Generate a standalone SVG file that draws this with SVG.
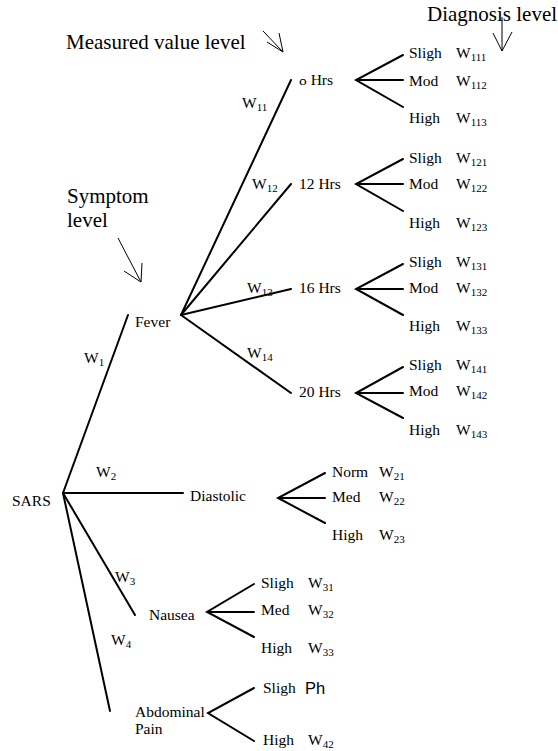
<svg xmlns="http://www.w3.org/2000/svg" width="558" height="751" viewBox="0 0 558 751">
  <style>
    text { font-family: "Liberation Serif", Tinos, "Times New Roman", Times, "DejaVu Serif", serif; fill: #000; }
    .t { font-size: 15.5px; }
    .big { font-size: 21px; }
    .sub { font-size: 11px; }
    text.sans { font-family: "Liberation Sans", Arimo, Arial, sans-serif; font-size: 16.5px; }
    .edge { stroke: #000; stroke-width: 2; fill: none; stroke-linecap: round; }
    .pointer { stroke: #000; stroke-width: 1; fill: none; }
  </style>
  <defs>
    <!-- the leading "8" is printed with its upper loop cut away -->
    <clipPath id="cut8">
      <rect x="295" y="79" width="13" height="12"/>
      <rect x="308" y="60" width="40" height="35"/>
    </clipPath>
  </defs>
  <rect width="558" height="751" fill="#fff"/>

  <!-- level captions with their pointers -->
  <g id="captions">
    <text class="big" x="66" y="49">Measured value level</text>
    <text class="big" x="427" y="21">Diagnosis level</text>
    <text class="big" x="67" y="203">Symptom</text>
    <text class="big" x="67" y="227">level</text>
    <path class="pointer" d="M263,31 L283,52 M267,42 L283,52 M279,33 L283,52"/>
    <path class="pointer" d="M502,17 L502,51 M493,33 L502,51 M512,32 L502,51"/>
    <path class="pointer" d="M118,238 L141,282 M124,271 L141,282 M142,263 L141,282"/>
  </g>

  <!-- connectors -->
  <g id="connectors" class="edge">
    <!-- SARS to symptoms -->
    <path d="M63,493 L128,315"/>
    <path d="M63,493 L183,493"/>
    <path d="M63,493 L135,615"/>
    <path d="M63,493 L110,711"/>
    <!-- Fever to measured values -->
    <path d="M181,315 L291,80"/>
    <path d="M181,315 L291,184"/>
    <path d="M181,315 L291,289"/>
    <path d="M181,315 L291,393"/>
    <!-- measured values to diagnoses -->
    <path d="M403,55 L356,80 L403,107 M356,80 L403,80"/>
    <path d="M403,159 L356,184 L403,211 M356,184 L403,184"/>
    <path d="M403,264 L356,289 L403,315 M356,289 L403,289"/>
    <path d="M403,367 L356,393 L403,418 M356,393 L403,393"/>
    <!-- other symptoms to diagnoses -->
    <path d="M325,473 L278,498 L325,523 M278,498 L325,498"/>
    <path d="M254,584 L207,612 L254,637 M207,612 L254,612"/>
    <path d="M254,688 L208,713 L254,741"/>
  </g>

  <!-- edge weights -->
  <g id="weights" class="t">
    <text x="84" y="363">W<tspan class="sub" dy="3">1</tspan></text>
    <text x="96" y="477">W<tspan class="sub" dy="3">2</tspan></text>
    <text x="115" y="582">W<tspan class="sub" dy="3">3</tspan></text>
    <text x="111" y="645">W<tspan class="sub" dy="3">4</tspan></text>
    <text x="242" y="108">W<tspan class="sub" dy="3">11</tspan></text>
    <text x="252" y="189">W<tspan class="sub" dy="3">12</tspan></text>
    <text x="247" y="293">W<tspan class="sub" dy="3">13</tspan></text>
    <text x="247" y="358">W<tspan class="sub" dy="3">14</tspan></text>
  </g>

  <g id="sars"><text class="t" x="12" y="506">SARS</text></g>
  <g id="fever"><text class="t" x="135" y="327">Fever</text></g>
  <g id="diastolic"><text class="t" x="190" y="501">Diastolic</text></g>
  <g id="nausea"><text class="t" x="149" y="620">Nausea</text></g>
  <g id="abdominal"><text class="t" x="135" y="717">Abdominal</text><text class="t" x="135" y="734">Pain</text></g>

  <g id="hrs8"><text class="t" x="299" y="85" clip-path="url(#cut8)">8 Hrs</text></g>
  <g id="hrs12"><text class="t" x="299" y="189">12 Hrs</text></g>
  <g id="hrs16"><text class="t" x="299" y="293">16 Hrs</text></g>
  <g id="hrs20"><text class="t" x="299" y="397">20 Hrs</text></g>

  <!-- diagnoses under 8 Hrs -->
  <g id="d11" class="t">
    <text x="409" y="58">Sligh</text><text x="456" y="58">W<tspan class="sub" dy="3">111</tspan></text>
    <text x="409" y="86">Mod</text><text x="456" y="86">W<tspan class="sub" dy="3">112</tspan></text>
    <text x="409" y="123">High</text><text x="456" y="123">W<tspan class="sub" dy="3">113</tspan></text>
  </g>
  <!-- diagnoses under 12 Hrs -->
  <g id="d12" class="t">
    <text x="409" y="163">Sligh</text><text x="456" y="163">W<tspan class="sub" dy="3">121</tspan></text>
    <text x="409" y="189">Mod</text><text x="456" y="189">W<tspan class="sub" dy="3">122</tspan></text>
    <text x="409" y="228">High</text><text x="456" y="228">W<tspan class="sub" dy="3">123</tspan></text>
  </g>
  <!-- diagnoses under 16 Hrs -->
  <g id="d13" class="t">
    <text x="409" y="267">Sligh</text><text x="456" y="267">W<tspan class="sub" dy="3">131</tspan></text>
    <text x="409" y="293">Mod</text><text x="456" y="293">W<tspan class="sub" dy="3">132</tspan></text>
    <text x="409" y="331">High</text><text x="456" y="331">W<tspan class="sub" dy="3">133</tspan></text>
  </g>
  <!-- diagnoses under 20 Hrs -->
  <g id="d14" class="t">
    <text x="409" y="370">Sligh</text><text x="456" y="370">W<tspan class="sub" dy="3">141</tspan></text>
    <text x="409" y="396">Mod</text><text x="456" y="396">W<tspan class="sub" dy="3">142</tspan></text>
    <text x="409" y="435">High</text><text x="456" y="435">W<tspan class="sub" dy="3">143</tspan></text>
  </g>
  <!-- diagnoses under Diastolic -->
  <g id="d2" class="t">
    <text x="332" y="477">Norm</text><text x="379" y="477">W<tspan class="sub" dy="3">21</tspan></text>
    <text x="332" y="502">Med</text><text x="379" y="502">W<tspan class="sub" dy="3">22</tspan></text>
    <text x="332" y="540">High</text><text x="379" y="540">W<tspan class="sub" dy="3">23</tspan></text>
  </g>
  <!-- diagnoses under Nausea -->
  <g id="d3" class="t">
    <text x="261" y="588">Sligh</text><text x="308" y="588">W<tspan class="sub" dy="3">31</tspan></text>
    <text x="261" y="615">Med</text><text x="308" y="615">W<tspan class="sub" dy="3">32</tspan></text>
    <text x="261" y="653">High</text><text x="308" y="653">W<tspan class="sub" dy="3">33</tspan></text>
  </g>
  <!-- diagnoses under Abdominal Pain -->
  <g id="d4" class="t">
    <text x="263" y="693">Sligh</text><text class="sans" x="305" y="694">Ph</text>
    <text x="263" y="745">High</text><text x="308" y="745">W<tspan class="sub" dy="3">42</tspan></text>
  </g>
</svg>
